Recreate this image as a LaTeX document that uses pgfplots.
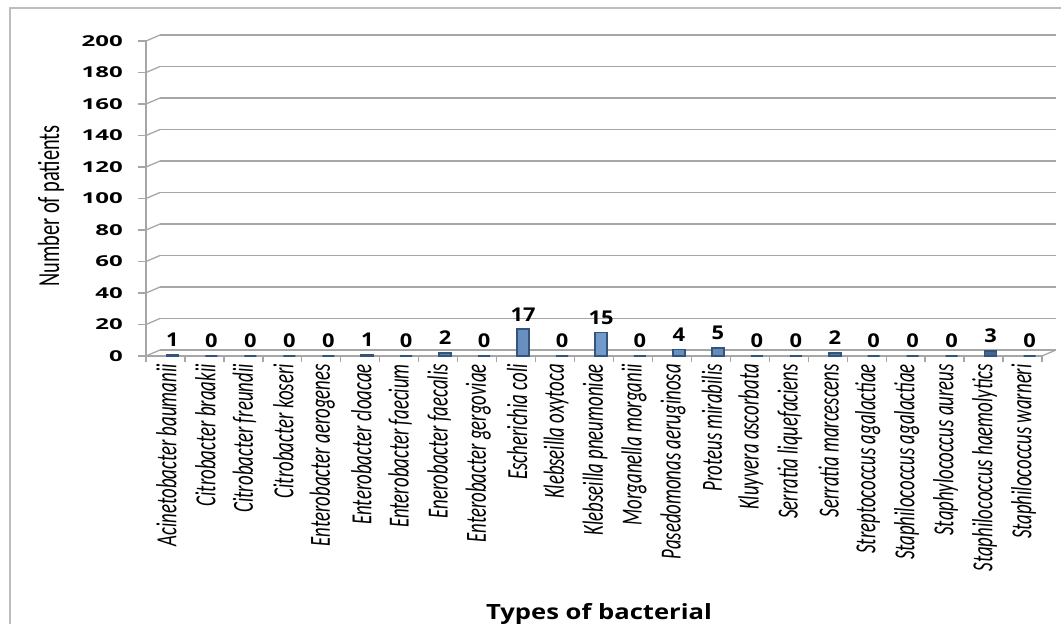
\documentclass[border=0pt]{standalone}
\usepackage{pgfplots}
\pgfplotsset{compat=1.18}
\usepackage{graphicx}
\usepackage{fontspec}
\setmainfont{Carlito}
\newfontfamily\osfont{Open Sans}
\definecolor{barblue}{HTML}{4F81BD}
\definecolor{bardark}{HTML}{2F5C8F}
\definecolor{gridgray}{HTML}{A6A6A6}
\definecolor{framegray}{HTML}{BDBDBD}
\newcommand{\XL}[1]{\scalebox{1}[1.55]{#1}}
\begin{document}
\begin{tikzpicture}[x=1pt,y=1pt]
\path[use as bounding box] (0,0) rectangle (1061,624);
\draw[framegray, line width=2pt] (10,-5) -- (10,616) -- (1070,616);
\begin{axis}[
  at={(146pt,268pt)}, anchor=south west,
  scale only axis, width=896pt, height=315pt,
  xmin=-0.5, xmax=22.5, ymin=0, ymax=200,
  clip=false,
  ybar,
  axis x line*=bottom, axis y line*=left,
  axis line style={draw=gridgray, line width=1.3pt},
  ytick={0,20,...,200},
  ymajorgrids,
  major grid style={draw=gridgray, line width=1.3pt, xshift=14pt, yshift=6pt},
  tick align=outside,
  major tick length=8pt,
  minor tick length=6pt,
  major y tick style={draw=gridgray, line width=1.3pt},
  major x tick style={draw=none},
  minor x tick style={draw=gridgray, line width=1.3pt},
  xtick={0,...,22},
  minor xtick={-0.5,0.5,...,22.5},
  /pgf/number format/assume math mode=true,
  yticklabel={\osfont\bfseries\fontsize{15}{17}\selectfont\scalebox{1.6}[1]{\pgfmathprintnumber{\tick}}},
  yticklabel style={anchor=east, inner sep=0pt, xshift=-15pt},
  xticklabel style={rotate=90, anchor=east, inner sep=0pt, yshift=-1pt, font=\fontsize{18.8}{20}\selectfont\itshape},
  xticklabels={\XL{Acinetobacter baumanii},\XL{Citrobacter braakii},\XL{Citrobacter freundii},\XL{Citrobacter koseri},\XL{Enterobacter aerogenes},\XL{Enterobacter cloacae},\XL{Enterobacter faecium},\XL{Enerobacter faecalis},\XL{Enterobacter gergoviae},\XL{Escherichia coli},\XL{Klebseilla oxytoca},\XL{Klebseilla pneumoniae},\XL{Morganella morganii},\XL{Pasedomonas aeruginosa},\XL{Proteus mirabilis},\XL{Kluyvera ascorbata},\XL{Serratia liquefaciens},\XL{Serratia marcescens},\XL{Streptococcus agalactiae},\XL{Staphilococcus agalactiae},\XL{Staphylococcus aureus},\XL{Staphilococcus haemolytics},\XL{Staphilococcus warneri}},
]
\addplot[ybar, bar width=12pt, bar shift=7pt, draw=barblue!65!black, line width=1.6pt,
  left color=barblue!75!black, right color=barblue!75!black, middle color=barblue!80!white,
  nodes near coords={\osfont\bfseries\fontsize{19}{21}\selectfont\scalebox{1.15}[1]{\pgfmathprintnumber{\pgfplotspointmeta}}},
  every node near coord/.append style={anchor=south, yshift=4pt, text=black}]
  coordinates {(0,1) (1,0) (2,0) (3,0) (4,0) (5,1) (6,0) (7,2) (8,0) (9,17) (10,0) (11,15) (12,0) (13,4) (14,5) (15,0) (16,0) (17,2) (18,0) (19,0) (20,0) (21,3) (22,0)};
\pgfplotsinvokeforeach{0,20,...,200}{
  \draw[gridgray, line width=1.3pt] (axis cs:-0.5,#1) -- ++(14pt,6pt);
}
\draw[gridgray, line width=1.3pt] (axis cs:22.5,0) -- ++(14pt,6pt);
\end{axis}
\node[rotate=90, font=\fontsize{20.4}{22}\selectfont] at (51,418) {\scalebox{1}[1.5]{Number of patients}};
\node[anchor=base, font=\osfont\bfseries\fontsize{21}{23}\selectfont] at (599,4.5) {\scalebox{1.22}[1]{Types of bacterial}};
\end{tikzpicture}
\end{document}
